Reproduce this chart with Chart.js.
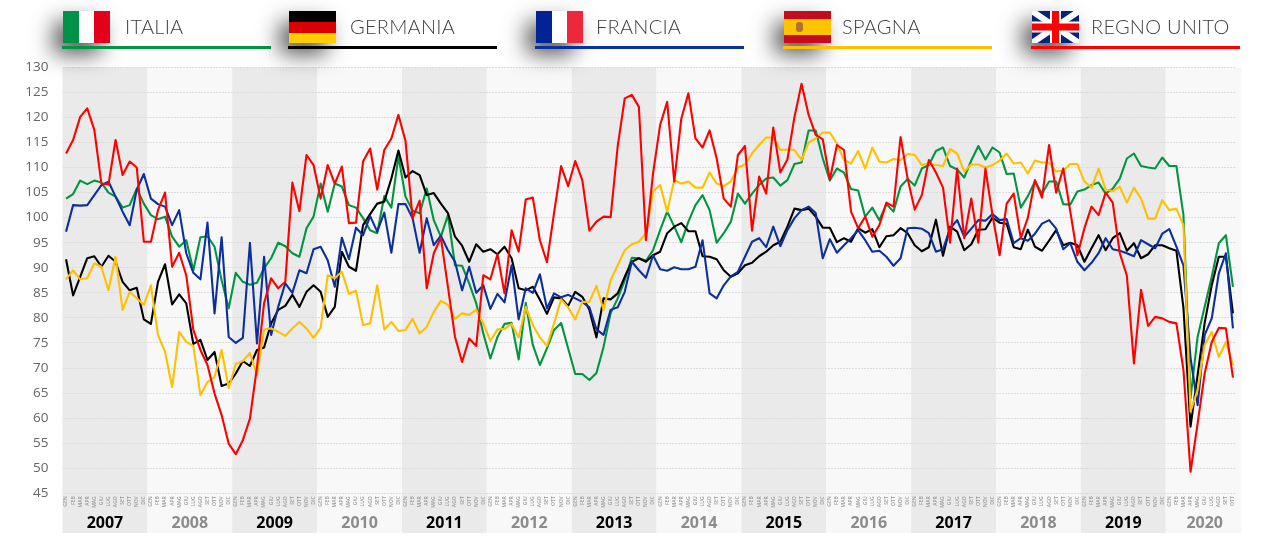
<!DOCTYPE html>
<html lang="it">
<head>
<meta charset="utf-8">
<title>Indici per paese</title>
<script src="https://cdn.jsdelivr.net/npm/chart.js@4/dist/chart.umd.min.js"></script>
<style>
html,body{margin:0;padding:0;background:#fff;width:1265px;height:538px;overflow:hidden}
#wrap{position:relative;width:1265px;height:538px}
#chart{position:absolute;left:0;top:0}
.item{position:absolute;top:0;height:60px}
.flag{position:absolute;left:0;top:11px;width:47px;height:32px;display:block;box-shadow:-9px 11px 22px rgba(0,0,0,.68);filter:blur(.35px)}
.name{position:absolute;top:14px;font:300 20px Lato,"Open Sans",sans-serif;color:#3f3f3f;white-space:nowrap;letter-spacing:.25px}
.rule{position:absolute;left:0;top:46px;height:3px;width:209px}
</style>
</head>
<body>
<div id="wrap">
<canvas id="chart" width="1265" height="538"></canvas>
<div id="legend"></div>
</div>
<script>
const years = [2007,2008,2009,2010,2011,2012,2013,2014,2015,2016,2017,2018,2019,2020];
const monthNames = ['GEN','FEB','MAR','APR','MAG','GIU','LUG','AGO','SET','OTT','NOV','DIC'];
const countries = ['ITALIA','GERMANIA','FRANCIA','SPAGNA','REGNO UNITO'];
const yTicks = [45,50,55,60,65,70,75,80,85,90,95,100,105,110,115,120,125,130];

const italia = [
103.8,104.7,107.4,106.7,107.4,107,105,104.2,102,102.5,105.8,102.8,
100.5,99.7,100.2,96.2,94.2,95.5,89.5,96.1,96.3,94.2,87.5,81.9,
89,87.2,86.6,87,89.9,91.9,95,94.3,92.9,92.2,97.9,100.2,
106.8,101.2,106.8,106.2,102.5,102,99.9,97.5,96.9,104.3,102,112.2,
104.2,101.4,100.9,105.8,99.5,96.2,100.5,90.5,90.4,86.9,82.9,76.9,
71.9,76.2,78.8,79,71.7,83,74.6,70.6,73.9,77.6,79,73.9,
68.8,68.8,67.6,69,74.2,80.9,83.9,87.5,92,91.9,91.4,93.5,
97.5,101.2,98.2,95.1,99.2,102.5,104.5,101.5,95,96.9,99.2,104.8,
102.8,104.8,106.5,107.8,108,106.4,107.5,110.7,111,117.4,117.4,111.8,
107.4,109.8,109,105.7,105.4,100.2,102,99.5,102.7,101.2,106.2,107.7,
106.4,109.8,110.5,113.3,114,110.3,109.6,108,111.4,114.3,111.6,114,
113,108.7,108.8,102,104.3,107.2,104.8,107.2,107.2,102.7,102.6,105.2,
105.6,106.5,107,104.8,105.8,107.8,111.8,112.8,110.3,110,109.8,112,
110.3,110.3,100.5,64,76.2,82.2,88.2,94.9,96.5,86.2];

const germania = [
91.7,84.5,88.2,91.9,92.3,90.2,92.4,91.2,87.2,85.5,86,79.7,
78.8,87.2,90.7,82.7,84.7,82.9,74.8,75.6,71.6,73.2,66.4,66.9,
68.9,71.4,70.4,73.6,74.1,78.9,81.6,82.4,84.6,82.2,85.2,86.5,
85.2,80.2,82.2,93.2,90.2,89.4,98.5,100.7,102.8,103.2,107.8,113.4,
108,109.3,108.5,104.5,104.9,102.8,100.9,96.2,94.4,91.2,94.7,93.2,
93.7,92.7,94.2,91.9,85.9,85.5,86.2,83.6,80.8,84.1,83.9,82.4,
85.2,84.2,81.6,76.1,83.9,83.7,84.9,88.2,91.2,91.9,91.2,92.5,
93.2,96.9,98.2,98.9,97.3,97.3,92.3,92.2,91.7,89.5,88.2,88.9,
90.5,91,92.3,93.2,94.5,95.2,98.2,101.8,101.5,101.8,100.2,98,
98,95.1,95.9,95.2,97.9,97,97.7,94.1,96.3,96.5,97.9,96.9,
94.5,93.3,94.1,99.6,92.4,98.2,97.2,93.5,94.7,97.6,97.7,100,
99,98.8,94.1,93.7,97.6,94.2,93.4,95.4,97.5,94.5,95,94.5,
91.2,93.9,96.5,93.5,95.9,96.9,93.4,94.9,91.9,92.7,94.5,94.5,
93.9,93.4,82,58.3,68.6,79,86.5,92.2,92.2,80.9];

const francia = [
97.2,102.5,102.4,102.5,104.5,106.5,107.2,104.2,101.2,98.5,105.6,108.7,
103.8,102.7,102.2,98.5,101.5,92.9,89,87.7,99,80.9,96.1,76.2,
75,76,95,74.9,92.2,76.6,82.2,86.9,85,89.5,88.9,93.7,
94.2,91.5,86.2,96,91.7,98,96.5,100.3,97.2,101,93,102.7,
102.7,99.9,93,99.9,94.5,96.4,93.5,91.2,85.5,90.2,85,86.5,
81.8,84.8,83.1,90.5,79.7,85.9,85,88.7,81.9,84.9,84.1,84.6,
83.9,83.2,82.1,77.7,76.6,81.6,82.1,85.2,91.2,89.5,88,92.5,
89.7,89.4,90.1,89.7,89.7,90.2,95.5,84.9,83.9,86.5,88.3,89.2,
92.2,95.2,95.9,94.1,98.2,94.3,97.5,99.9,101.5,102.2,100.9,91.9,
95.7,93,94.5,95.9,97.5,95.5,93.2,93.4,92.2,90.4,91.9,97.9,
98,97.8,96.9,93.2,93.7,97.8,99.5,96.2,97.8,99.5,99.4,100.7,
99.5,99.7,94.9,95.9,95.4,96.8,98.8,99.5,97.8,93.7,94.9,91.2,
89.5,91,92.9,95.9,93.7,93.4,92.9,92.3,95.5,94.7,93.9,96.8,
97.7,94.2,90.5,72,62.6,76.6,79.9,88.9,92.9,77.9];

const spagna = [
87.7,89.5,87.7,87.9,90.9,90.2,85.5,92.2,81.6,85.2,83.9,82.6,
86.5,76.6,73.2,66.2,77.2,75.2,74.4,64.6,67.2,68.2,73.6,66,
70.8,71.4,73,68.6,77.7,77.9,77.2,76.4,77.9,79.2,77.9,76,
78,88.5,87.9,89.2,84.8,85.4,78.6,78.9,86.5,77.7,79.2,77.4,
77.6,79.8,76.9,78.2,81.2,83.4,82.6,79.8,80.9,80.6,81.6,78.9,
75.4,77.7,77.8,78.8,76.1,82.2,78.6,76.1,74.4,78.9,83.7,82.1,
79.7,83.2,83.2,86.4,81.6,87.5,90.5,93.5,94.7,95.2,96.9,105.2,
106.5,101.2,107.5,106.8,107.2,106,106,109,106.8,106.3,107.2,110,
110.6,112.8,114.5,116,116,113.5,113.6,113.5,111.5,115,115.8,117,
117,114.8,111.5,110.8,113.3,109.8,114,111.2,111,111.7,111.5,112.7,
112.5,110.5,110.8,110.5,110.3,113.7,112.8,109.2,110.6,110.6,110,110.5,
111.4,112.8,110.8,111,108.8,111.4,111,111,109.2,109.4,110.7,110.7,
107.2,106,109.8,105.6,105.3,106.2,103,106,103.8,99.8,99.8,103.5,
101.5,101.8,98.5,61.3,65.6,74.6,77.2,72.2,75.2,70.6];

const regnoUnito = [
112.8,115.5,120.1,121.8,117.5,106.8,106.6,115.5,108.5,111.2,110,95.2,
95.2,101.5,105,90.2,93,88.5,77.6,73.6,70.6,64.9,60.6,54.9,
52.8,55.6,59.9,70.2,82.9,87.9,85.9,87.2,107,101.3,112.5,110.5,
103.8,110.5,106.8,110.2,98.9,99,111.2,113.8,105.6,113.5,115.8,120.5,
115.3,99.9,103.4,85.9,92.9,96,86.2,76.2,71.2,75.9,74.4,88.5,
87.7,92.7,84.9,97.5,93.2,103.6,104,95.5,91.1,100.9,110.3,106.3,
111.3,107.5,97.4,99.2,100.2,100.1,114.2,123.8,124.5,122.1,95.5,108.8,
118.5,123.1,107.2,119.8,124.8,115.8,114,117.4,111.8,103.8,102.2,112.5,
114.3,97.4,108.2,104.8,118,109,111.6,120.1,126.7,120.5,116.5,115.6,
107.6,114.5,113.5,101.2,97.9,100.2,96.2,98.5,103,102.2,116.1,107.8,
101.6,104.5,111.5,109,106,95,109.8,95.9,103.8,95,109.8,100.5,
92.5,102.8,104.8,95.9,100,107.5,104,114.5,105,109.8,101.2,92.5,
97.9,102.2,100.5,105,103,92.9,88.4,70.9,85.6,78.4,80.2,79.9,
79.2,78.9,69.6,49.3,58.9,68.9,75.2,78,77.9,68.1];

const seriesValues = [italia, germania, francia, spagna, regnoUnito];
const seriesColors = ['#009640','#000000','#0b2f9c','#ffc000','#ff0000'];
const drawOrder = [4,3,2,1,0];
const legendLeft = [62,288,535,783,1031];
const nameLeft = [63,62,61,59,60];

const monthLabels = [];
years.forEach(y => monthNames.forEach((m,k) => {
  if (y < 2020 || k < 10) monthLabels.push(m);
}));
const yearStart = years.map((y,k) => k*12);
const yearCentres = years.map((y,k) => k === years.length-1 ? yearStart[k]+5 : yearStart[k]+5.5);

const flags = [
 '<rect width="47" height="32" fill="#fff"/><rect width="16" height="32" fill="#009246"/><rect x="31" width="16" height="32" fill="#e2001a"/>',
 '<rect width="47" height="11" fill="#000"/><rect y="11" width="47" height="11" fill="#dd0000"/><rect y="22" width="47" height="10" fill="#ffce00"/>',
 '<rect width="47" height="32" fill="#fff"/><rect width="16" height="32" fill="#002395"/><rect x="31" width="16" height="32" fill="#ed2939"/>',
 '<rect width="47" height="32" fill="#c60b1e"/><rect y="8" width="47" height="16" fill="#ffc400"/><rect x="12" y="11" width="7" height="10" rx="3" fill="#b5702a"/>',
 '<rect width="47" height="32" fill="#00247d"/><path d="M0 0L47 32M47 0L0 32" stroke="#fff" stroke-width="6"/><path d="M23.5 0V32M0 16H47" stroke="#fff" stroke-width="11"/><path d="M23.5 0V32M0 16H47" stroke="#ff0000" stroke-width="7"/>'
];
document.getElementById('legend').innerHTML = countries.map((name,k) =>
 `<div class="item" style="left:${legendLeft[k]}px">
   <svg class="flag" viewBox="0 0 47 32" style="left:1px">${flags[k]}</svg>
   <div class="rule" style="background:${seriesColors[k]}"></div>
   <div class="name" style="left:${nameLeft[k]}px">${name}</div>
 </div>`).join('');

const bandsPlugin = {
  id: 'yearBands',
  beforeDraw(chart) {
    const {ctx, scales:{x}, chartArea} = chart;
    const half = (x.getPixelForValue(1)-x.getPixelForValue(0))/2;
    ctx.save();
    years.forEach((y,k) => {
      const isLast = k === years.length-1;
      const left = x.getPixelForValue(yearStart[k]) - half;
      const right = isLast ? chartArea.right+5 : x.getPixelForValue(yearStart[k+1]) - half;
      ctx.fillStyle = k % 2 === 0 ? '#eaeaea' : '#f8f8f8';
      ctx.fillRect(left, chartArea.top, right-left, 533-chartArea.top);
    });
    ctx.restore();
  }
};

new Chart(document.getElementById('chart'), {
  type: 'line',
  data: {
    labels: monthLabels,
    datasets: countries.map((name,k) => ({
      label: name,
      data: seriesValues[k],
      borderColor: seriesColors[k],
      backgroundColor: seriesColors[k],
      borderWidth: 2.1,
      borderJoinStyle: 'round',
      pointRadius: 0,
      tension: 0,
      order: drawOrder[k]
    }))
  },
  plugins: [bandsPlugin],
  options: {
    responsive: false,
    animation: false,
    layout: {padding: {left: 0, right: 28.5, top: 67.3, bottom: 0}},
    plugins: {legend: {display: false}, tooltip: {enabled: false}},
    scales: {
      x: {
        type: 'category',
        offset: true,
        position: 'bottom',
        grid: {display: false, drawTicks: false},
        border: {display: false},
        ticks: {autoSkip: false, minRotation: 90, maxRotation: 90, padding: 3, color: '#9a9a9a',
                font: {family: '"Open Sans"', size: 5, weight: '600'}},
        afterFit(s) { s.height = 17; }
      },
      yearAxis: {
        type: 'linear',
        position: 'bottom',
        min: -0.5,
        max: 165.5,
        grid: {display: false, drawTicks: false},
        border: {display: false},
        afterBuildTicks(s) { s.ticks = yearCentres.map(v => ({value: v})); },
        afterFit(s) { s.height = 27.7; },
        ticks: {
          autoSkip: false, maxRotation: 0, minRotation: 0, padding: 4,
          callback(v) { return String(years[yearCentres.indexOf(v)]); },
          color: c => c.index % 2 === 0 ? '#000000' : '#8c8c8c',
          font: {family: '"Open Sans"', size: 16, weight: '700'}
        }
      },
      y: {
        min: 45, max: 130,
        afterBuildTicks(s) { s.ticks = yTicks.map(v => ({value: v})); },
        afterFit(s) { s.width = 62.5; },
        grid: {color: '#dcdcdc', drawTicks: false, lineWidth: 1},
        border: {display: false, dash: [2,1]},
        ticks: {padding: 14, color: '#666666', font: {family: '"Open Sans"', size: 13.5}}
      }
    }
  }
});
</script>
</body>
</html>
